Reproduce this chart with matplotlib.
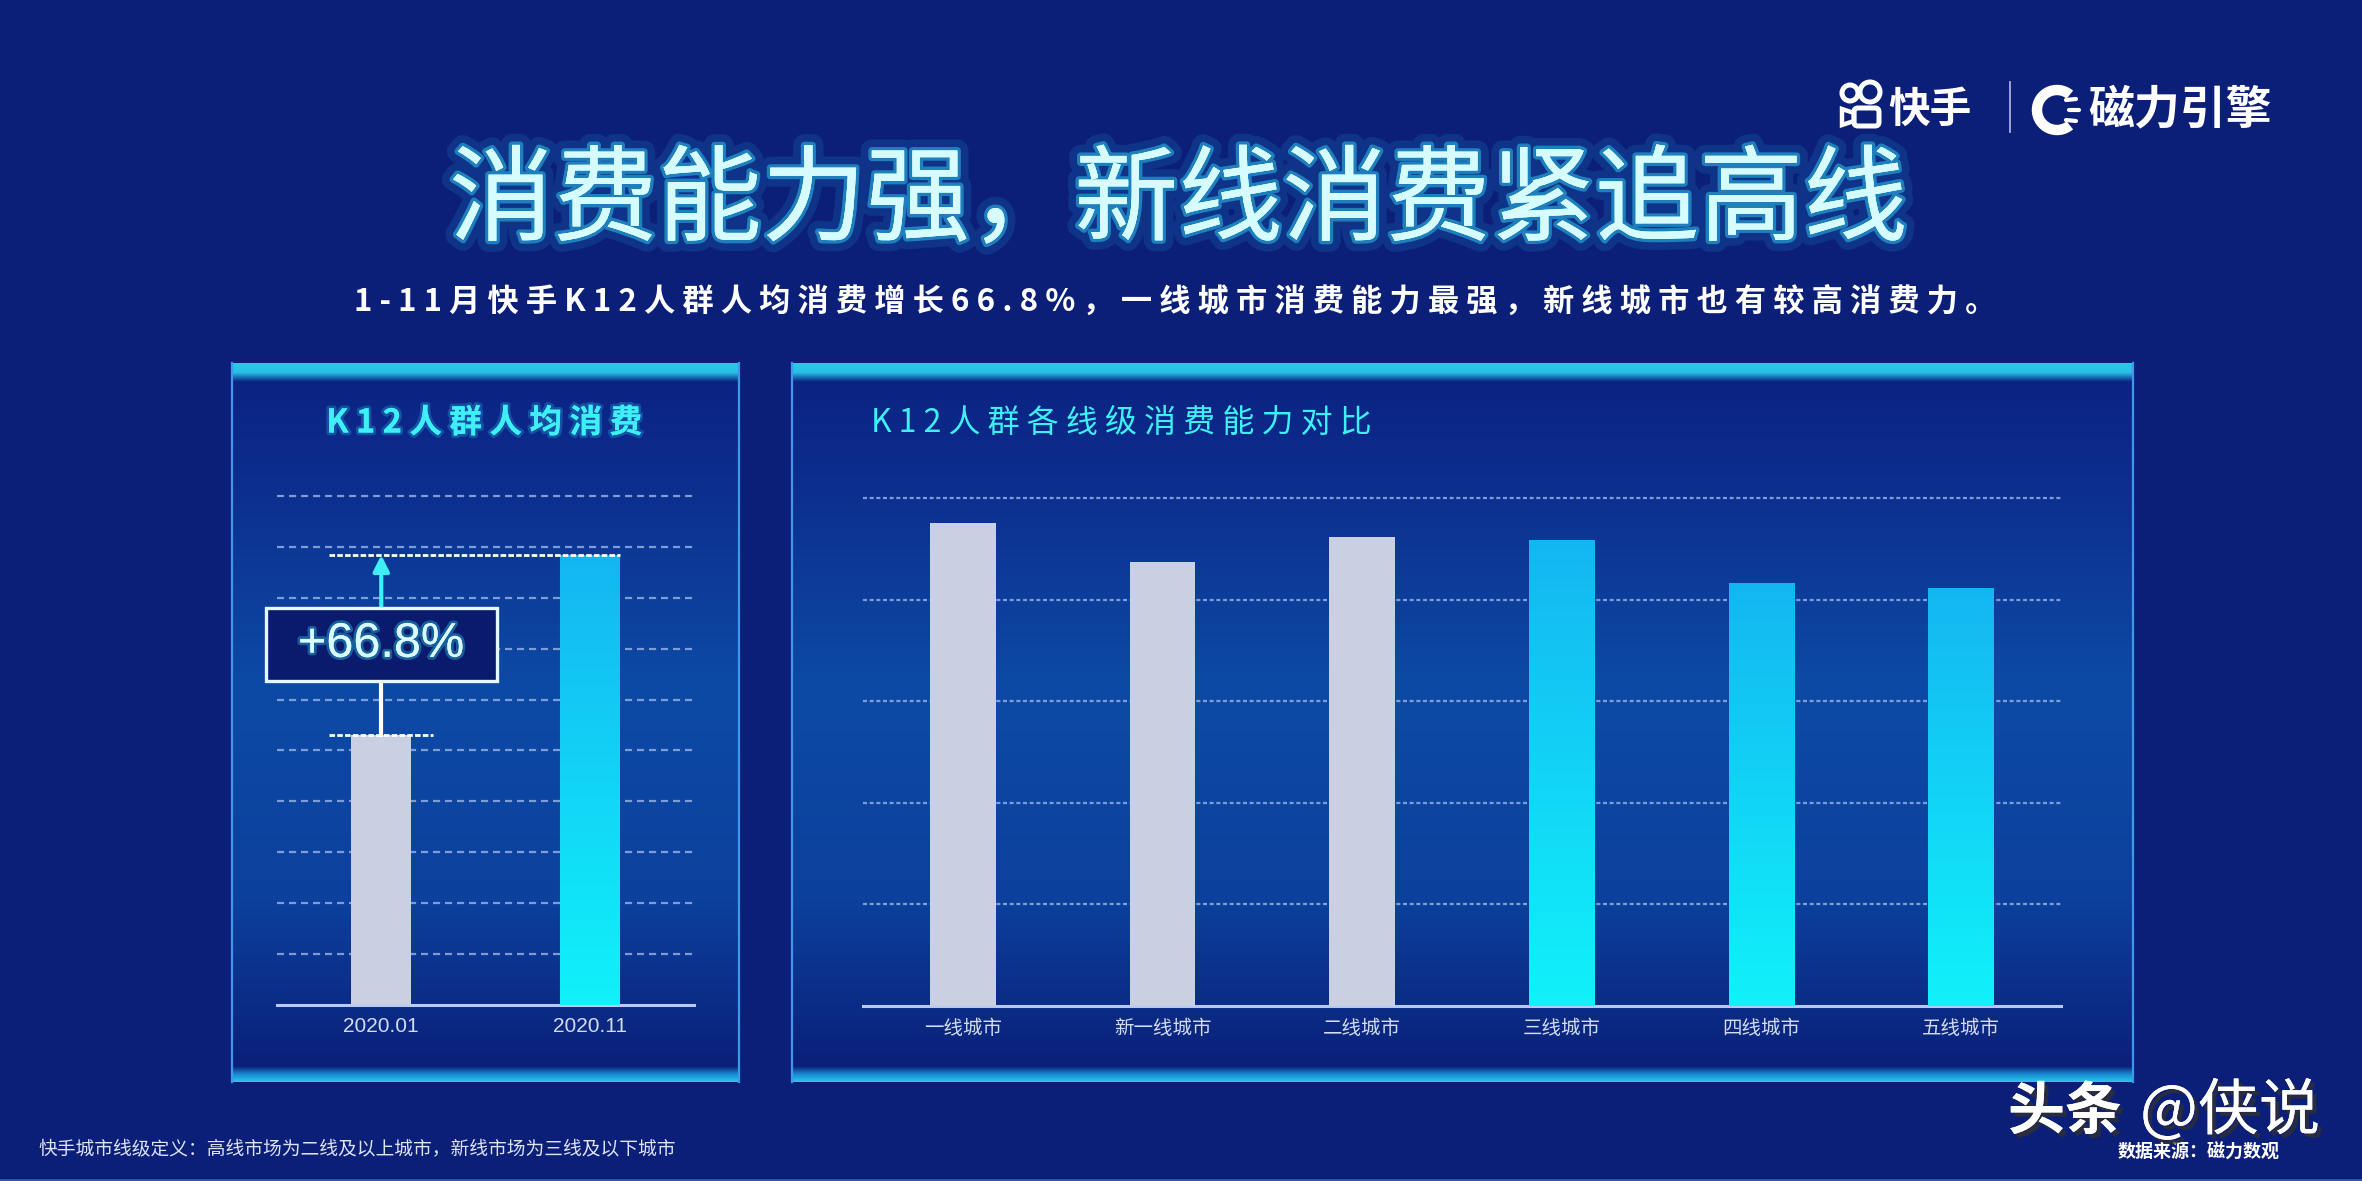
import numpy as np
import matplotlib
matplotlib.use('Agg')
import matplotlib.pyplot as plt
import matplotlib.patheffects as pe
from matplotlib.colors import LinearSegmentedColormap
from matplotlib.patches import Rectangle, Circle, Arc, Polygon, FancyBboxPatch

plt.rcParams['font.family'] = ['Noto Sans CJK SC', 'DejaVu Sans']
plt.rcParams['axes.unicode_minus'] = False

# 数据（相对值，图中未标数值，按柱高读取）
months = ['2020.01', '2020.11']
avg_spend = [5.30, 8.84]
growth_label = '+66.8%'
cities = ['一线城市', '新一线城市', '二线城市', '三线城市', '四线城市', '五线城市']
city_spend = [4.75, 4.37, 4.62, 4.58, 4.16, 4.11]
city_is_new = [False, False, False, True, True, True]

title = '消费能力强，新线消费紧追高线'
subtitle = '1-11月快手K12人群人均消费增长66.8%，一线城市消费能力最强，新线城市也有较高消费力。'
left_title = 'K12人群人均消费'
right_title = 'K12人群各线级消费能力对比'
footnote = '快手城市线级定义：高线市场为二线及以上城市，新线市场为三线及以下城市'
source = '数据来源：磁力数观'

W, H = 2362, 1181
BG = '#0c1f78'
CYAN = '#3ef0f6'
GRAY_BAR = '#c9d0e2'
GRID = '#93aee0'

panel_cmap = LinearSegmentedColormap.from_list(
    'panel', [(0, '#0b2282'), (0.15, '#0c2d8d'), (0.45, '#0d4aa6'), (0.75, '#0c409d'), (1, '#0a1e76')])
top_cmap = LinearSegmentedColormap.from_list('top', [(0, '#2cc8e8'), (0.5, '#26c0e6'), (1, '#0b2282')])
bot_cmap = LinearSegmentedColormap.from_list('bot', [(0, '#0a1e76'), (0.5, '#1888d0'), (1, '#2ac8ea')])
bar_cmap = LinearSegmentedColormap.from_list('bar', ['#10f2fa', '#14b6f2'])

fig = plt.figure(figsize=(W / 100, H / 100), dpi=100, facecolor=BG)
bg = fig.add_axes([0, 0, 1, 1])
bg.set_facecolor(BG)
bg.axis('off')


def panel(x0, x1, y0=367, y1=1080):
    grad = np.linspace(0, 1, 256).reshape(-1, 1)
    bg.imshow(grad, cmap=panel_cmap, extent=[x0, x1, y1, y0], aspect='auto', origin='upper', zorder=1)
    band = np.linspace(0, 1, 64).reshape(-1, 1)
    bg.imshow(band, cmap=top_cmap, extent=[x0, x1, y0 + 15, y0 - 4], aspect='auto', origin='upper', zorder=2)
    bg.imshow(band, cmap=bot_cmap, extent=[x0, x1, y1 + 2, y1 - 14], aspect='auto', origin='upper', zorder=2)
    for xx in (x0, x1):
        bg.plot([xx, xx], [y0 - 4, y1 + 2], color='#3f96ea', lw=1.6, zorder=3)


panel(232, 739)
panel(792, 2133)
bg.plot([0, W], [H - 1, H - 1], color='#3556ad', lw=2, zorder=3)
bg.set_xlim(0, W)
bg.set_ylim(H, 0)

# 标题
bg.text(1178, 203, title, fontsize=75, color='#d6fcff', ha='center', va='center', zorder=5,
        path_effects=[pe.withStroke(linewidth=16, foreground='#1ec8ff', alpha=0.12),
                      pe.withStroke(linewidth=5, foreground='#35dcff', alpha=0.45), pe.Normal()])
bg.text(1175, 302, ' '.join(subtitle), fontsize=22.5, weight='bold', color='white',
        ha='center', va='center', zorder=5)
bg.text(484, 423, ' '.join(left_title), fontsize=23.5, weight='bold', color=CYAN,
        ha='center', va='center', zorder=5,
        path_effects=[pe.withStroke(linewidth=4, foreground='#30d0ff', alpha=0.25), pe.Normal()])
bg.text(871, 423, ' '.join(right_title), fontsize=23, color=CYAN,
        ha='left', va='center', zorder=5)
bg.text(38, 1149, footnote, fontsize=13.5, color='#dde3f5', ha='left', va='center', zorder=5)

# 右上角 logo
bg.add_patch(Circle((1850, 93), 8, fill=False, ec='white', lw=3.6, zorder=6))
bg.add_patch(Circle((1870, 92), 10, fill=False, ec='white', lw=3.6, zorder=6))
bg.add_patch(FancyBboxPatch((1854, 108), 25, 18, boxstyle='round,pad=0,rounding_size=4',
                            fill=False, ec='white', lw=3.6, zorder=6))
bg.add_patch(Polygon([[1854, 113], [1842, 109], [1842, 125], [1854, 121]], closed=True,
                     fill=False, ec='white', lw=3.2, zorder=6))
bg.text(1888, 110, '快手', fontsize=30, weight='bold', color='white', ha='left', va='center', zorder=6)
bg.plot([2010, 2010], [82, 132], color='#a6aed6', lw=1.3, zorder=6)
bg.add_patch(Arc((2057, 110), 40, 40, theta1=50, theta2=310, ec='white', lw=7.5, zorder=6))
for dy, dx in ((-10, 0), (0, 3), (10, 0)):
    bg.plot([2066 + dx, 2076 + dx], [110 + dy, 110 + dy * 1.1], color='white', lw=3, zorder=6,
            solid_capstyle='round')
bg.text(2088, 110, '磁力引擎', fontsize=33, weight='bold', color='white', ha='left', va='center', zorder=6)

# 水印与来源
bg.text(2118, 1152, source, fontsize=13, weight='bold', color='white', ha='left', va='center', zorder=6)
shadow = [pe.withSimplePatchShadow(offset=(3, -3), shadow_rgbFace='#303030', alpha=0.8), pe.Normal()]
bg.text(2008, 1112, '头条', fontsize=41, weight='bold', color='white', ha='left', va='center',
        zorder=7, path_effects=shadow)
bg.text(2140, 1112, '@侠说', fontsize=44, color='white', ha='left', va='center',
        zorder=7, path_effects=shadow)


def gradient_bar(ax, b):
    x0, w, h = b.get_x(), b.get_width(), b.get_height()
    ax.imshow(np.linspace(0, 1, 256).reshape(-1, 1), cmap=bar_cmap, extent=[x0, x0 + w, 0, h],
              origin='lower', aspect='auto', zorder=3.2)


def style_axes(ax, n, top, dash):
    ax.set_facecolor('none')
    for s in ('top', 'left', 'right'):
        ax.spines[s].set_visible(False)
    ax.spines['bottom'].set_color('#b9c8f2')
    ax.spines['bottom'].set_linewidth(2.2)
    ax.set_yticks(range(1, int(top) + 1))
    ax.yaxis.grid(True, color=GRID, lw=1.6, ls=(0, dash), alpha=0.85)
    ax.set_axisbelow(True)
    ax.tick_params(axis='y', length=0, labelleft=False)
    ax.tick_params(axis='x', length=0, pad=9, labelcolor='#d3dbf2')
    ax.set_xlim(-0.5, n - 0.5)


# 左图：K12人群人均消费
axL = fig.add_axes([277 / W, (H - 1005) / H, 417 / W, 534.5 / H])
xl = np.arange(len(months))
barsL = axL.bar(xl, avg_spend, width=0.287, color=[GRAY_BAR, '#10d8f6'], zorder=3)
gradient_bar(axL, barsL[1])
style_axes(axL, len(months), 10, (3.2, 2.2))
axL.set_ylim(0, 10.5)
axL.set_xticks(xl)
axL.set_xticklabels(months, fontsize=15, family=['Liberation Sans', 'DejaVu Sans'])

hw = barsL[1].get_width() / 2
axL.plot([-0.25, xl[1] + hw], [avg_spend[1]] * 2, color='white', lw=2, ls=(0, (2, 0.8)),
         zorder=5, clip_on=False)
axL.plot([-0.25, 0.25], [avg_spend[0]] * 2, color='white', lw=2, ls=(0, (2, 0.8)),
         zorder=5, clip_on=False)
box_lo, box_hi = 6.37, 7.80
axL.plot([0, 0], [avg_spend[0], box_lo], color='white', lw=3, zorder=5)
axL.annotate('', xy=(0, avg_spend[1]), xytext=(0, box_hi),
             arrowprops=dict(arrowstyle='-|>', color=CYAN, lw=3, mutation_scale=24,
                             shrinkA=0, shrinkB=0), zorder=5)
axL.add_patch(Rectangle((-0.553, box_lo), 1.106, box_hi - box_lo, facecolor='#0a1a6c',
                        edgecolor='#e6f8ff', lw=2.4, zorder=6, clip_on=False))
axL.text(0, (box_lo + box_hi) / 2, growth_label, fontsize=35, color='#d9fbff', ha='center',
         va='center', family=['Liberation Sans', 'DejaVu Sans'], zorder=7,
         path_effects=[pe.withStroke(linewidth=4, foreground='#30e0ff', alpha=0.35), pe.Normal()])

# 右图：K12人群各线级消费能力对比
axR = fig.add_axes([863 / W, (H - 1006) / H, 1198 / W, 538.5 / H])
xr = np.arange(len(cities))
barsR = axR.bar(xr, city_spend, width=0.33,
                color=['#10d8f6' if n else GRAY_BAR for n in city_is_new], zorder=3)
for b, n in zip(barsR, city_is_new):
    if n:
        gradient_bar(axR, b)
style_axes(axR, len(cities), 5, (1.8, 1.2))
axR.set_ylim(0, 5.3)
axR.set_xticks(xr)
axR.set_xticklabels(cities, fontsize=14)

fig.savefig('out.png', dpi=100, facecolor=BG)
